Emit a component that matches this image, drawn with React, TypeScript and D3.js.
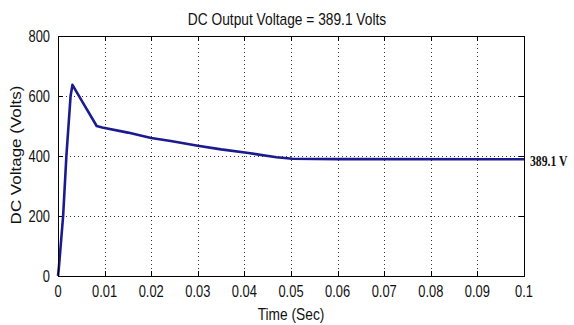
import React, { useEffect, useRef } from 'react'
import * as d3 from 'd3';

const width = 574;
const height = 325;
const margin = { top: 36, right: 50, bottom: 49, left: 58 };

// Values
const timeSec = [0, 0.0002, 0.0011, 0.0018, 0.0027, 0.0031, 0.0054, 0.0083, 0.0095, 0.015, 0.02, 0.0242, 0.03, 0.035, 0.0409, 0.0469, 0.0503, 0.06, 0.1];
const voltage = [0, 30, 200, 400, 600, 637, 576, 500, 495, 478, 460, 450, 434, 422, 410, 396, 391, 389.5, 389.1];
const xTicks = [0, 0.01, 0.02, 0.03, 0.04, 0.05, 0.06, 0.07, 0.08, 0.09, 0.1];
const xTickLabels = ['0', '0.01', '0.02', '0.03', '0.04', '0.05', '0.06', '0.07', '0.08', '0.09', '0.1'];
const yTicks = [0, 200, 400, 600, 800];
const finalValue = 389.1;

const font = '"Liberation Sans", Arial, sans-serif';

function App() {
  const ref = useRef<SVGSVGElement>(null);

  useEffect(() => {
    const svg = d3.select(ref.current);
    svg.selectAll('*').remove();

    const x0 = margin.left;
    const x1 = width - margin.right;
    const y0 = height - margin.bottom;
    const y1 = margin.top;

    const x = d3.scaleLinear().domain([0, 0.1]).range([x0, x1]);
    const y = d3.scaleLinear().domain([0, 800]).range([y0, y1]);

    svg.append('rect')
      .attr('width', width).attr('height', height).attr('fill', 'white');

    // the picture's text is tall and narrow, so squeeze it horizontally
    const label = (px: number, py: number, txt: string, size: number, sx: number, anchor: string) =>
      svg.append('text')
        .attr('transform', `translate(${px},${py}) scale(${sx},1)`)
        .attr('text-anchor', anchor)
        .style('font-family', font).style('font-size', size + 'px')
        .attr('fill', '#111')
        .text(txt);

    // grid
    const grid = svg.append('g')
      .attr('stroke', '#333').attr('stroke-width', 1)
      .attr('stroke-dasharray', '1,3');
    xTicks.slice(1, -1).forEach((t) => {
      grid.append('line')
        .attr('x1', Math.round(x(t)) + 0.5).attr('x2', Math.round(x(t)) + 0.5)
        .attr('y1', y1).attr('y2', y0);
    });
    yTicks.slice(1, -1).forEach((v) => {
      grid.append('line')
        .attr('y1', Math.round(y(v)) + 0.5).attr('y2', Math.round(y(v)) + 0.5)
        .attr('x1', x0).attr('x2', x1);
    });

    // inward ticks on all four sides
    const ticks = svg.append('g').attr('stroke', 'black').attr('stroke-width', 1);
    const tl = 5;
    xTicks.forEach((t) => {
      const px = Math.round(x(t)) + 0.5;
      ticks.append('line').attr('x1', px).attr('x2', px).attr('y1', y0).attr('y2', y0 - tl);
      ticks.append('line').attr('x1', px).attr('x2', px).attr('y1', y1).attr('y2', y1 + tl);
    });
    yTicks.forEach((v) => {
      const py = Math.round(y(v)) + 0.5;
      ticks.append('line').attr('y1', py).attr('y2', py).attr('x1', x0).attr('x2', x0 + tl);
      ticks.append('line').attr('y1', py).attr('y2', py).attr('x1', x1).attr('x2', x1 - tl);
    });

    // curve
    const pts: [number, number][] = timeSec.map((t, i) => [t, voltage[i]]);
    const line = d3.line<[number, number]>()
      .x((d) => x(d[0]))
      .y((d) => y(d[1]));
    svg.append('path')
      .datum(pts)
      .attr('fill', 'none')
      .attr('stroke', '#1b1b8f')
      .attr('stroke-width', 2.6)
      .attr('stroke-linejoin', 'round')
      .attr('d', line);

    // frame
    svg.append('rect')
      .attr('x', x0 + 0.5).attr('y', y1 + 0.5)
      .attr('width', x1 - x0).attr('height', y0 - y1)
      .attr('fill', 'none').attr('stroke', 'black').attr('stroke-width', 1);

    // tick labels
    xTicks.forEach((t, i) => {
      label(x(t), y0 + 21, xTickLabels[i], 17, 0.76, 'middle');
    });
    yTicks.forEach((v) => {
      label(x0 - 8, y(v) + 6, String(v), 17, 0.76, 'end');
    });

    // titles
    label((x0 + x1) / 2 - 4, 25, 'DC Output Voltage = 389.1 Volts', 16, 0.86, 'middle');
    label((x0 + x1) / 2, y0 + 44, 'Time (Sec)', 16, 0.86, 'middle');
    svg.append('text')
      .attr('transform', `translate(21,${(y0 + y1) / 2 - 1}) rotate(-90) scale(1,0.82)`)
      .attr('text-anchor', 'middle')
      .style('font-family', font).style('font-size', '17px')
      .attr('fill', '#111')
      .text('DC Voltage (Volts)');

    // final value annotation
    svg.append('text')
      .attr('transform', `translate(${x1 + 6},${y(finalValue) + 7}) scale(0.78,1)`)
      .style('font-family', '"Liberation Serif", "Times New Roman", serif')
      .style('font-size', '15px').style('font-weight', 'bold')
      .attr('fill', '#111')
      .text('389.1 V');
  }, []);

  return (
    <svg ref={ref} width={width} height={height}
      style={{ position: 'absolute', left: 0, top: 0, display: 'block' }} />
  );
}

export default App;
